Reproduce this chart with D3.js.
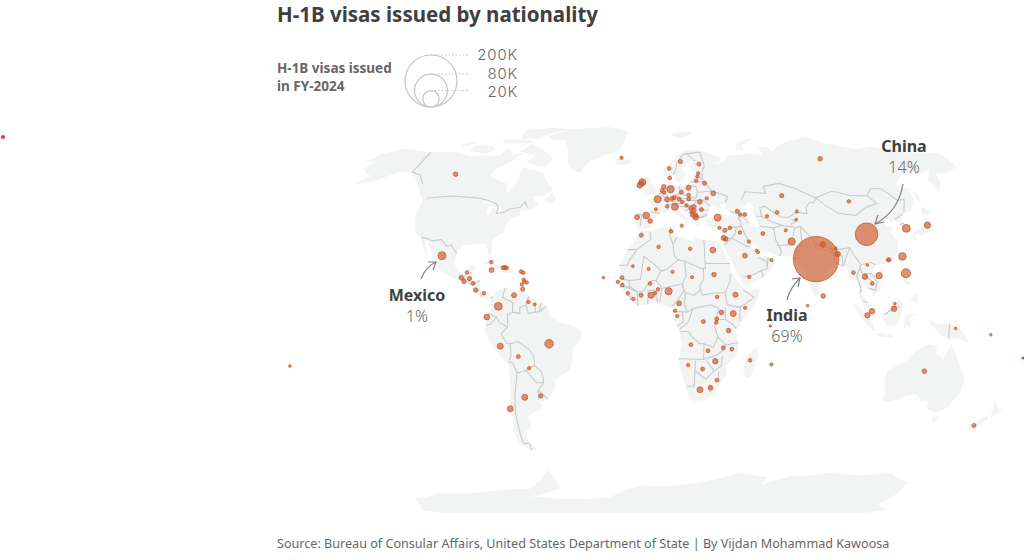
<!DOCTYPE html>
<html>
<head>
<meta charset="utf-8">
<script src="https://d3js.org/d3.v7.min.js"></script>
<style>
  body { margin: 0; background: #fff; }
  svg { display: block; }
  text { font-family: "Noto Sans", sans-serif; }
</style>
</head>
<body>
<svg width="1024" height="560"></svg>
<script>
var americas = [
  ["Canada",-115,59.4,1500],["Mexico",-104.2,25.2,4700],["Bahamas",-79.5,22.6,900],["Cuba",-78.8,19.3,1800],
  ["Haiti",-73.4,20.3,1200],["Dominican Republic",-72.5,20.3,1400],["Jamaica",-71.7,20.2,1100],
  ["Belize",-90.6,18.4,800],["Guatemala",-93,16.2,1500],["El Salvador",-91.5,14.7,1500],["Honduras",-89,15.8,1300],
  ["Nicaragua",-87,13.9,1000],["Costa Rica",-85.5,11.1,1500],["Panama",-81.5,9.8,1000],["Colombia",-74.3,4.4,4500],
  ["Ecuador",-79.7,0,2400],["Venezuela",-67,9,1800],["Guyana",-60,6.2,900],["Suriname",-57,5.2,600],
  ["Antigua",-64.4,18.7,1000],["Barbuda",-63.3,18.2,900],["St Kitts",-62.8,15.4,800],["Dominica",-62.5,14.6,900],
  ["St Lucia",-61.2,14.2,800],["Barbados",-63.6,13.4,800],["Trinidad",-63,11.5,1300],
  ["Peru",-73.8,-12,2600],["Bolivia",-65.5,-16.3,1100],["Paraguay",-60.8,-21,800],["Brazil",-50.3,-11,5500],
  ["Argentina",-65,-33,2600],["Uruguay",-56.8,-32.4,1400],["Chile",-73.6,-37.7,2600]
];
var europe = [
  ["Iceland",-20,67,800],["Ireland",-8,54.5,2200],["UK mid",-7,55.3,1800],["United Kingdom",-6.6,55.8,3700],["Norway",9,62,1000],
  ["Sweden",16,65.2,1300],["Finland",27,64,1100],["Denmark",9,57.7,1000],["Estonia",25.7,59.8,800],
  ["Latvia",25,58.4,800],["Lithuania",23.9,56.5,900],["Belarus",28.5,55.4,1200],["Poland",19.2,53.4,1800],
  ["Ukraine",32.4,51,1700],["Netherlands",5.5,53.8,1500],["Belgium",4.5,52.2,1300],["Luxembourg",5.5,51.4,900],
  ["Germany",9.2,52.8,3800],["France",2,48.5,3800],["Switzerland",7,48.4,1700],["Liechtenstein",9.8,48.8,1300],
  ["San Marino",11,49.2,1300],["Czechia",15,51.5,1200],["Austria",13.6,48.6,1100],["Slovakia",18.9,50.3,900],
  ["Hungary",18.8,48.6,1100],["Romania",24.6,47.4,1700],["Moldova",28.5,48.9,800],["Slovenia",15,47.4,900],
  ["Croatia",17.3,45.9,800],["Bosnia",19.5,44.8,1200],["Serbia",21.2,45.3,1400],["Montenegro",19.7,43.1,1000],
  ["Kosovo",21,43.5,1000],["North Macedonia",21.7,41.7,1200],["Albania",20,42,1400],["Greece",21.7,41,2200],
  ["Bulgaria",25,44.2,1100],["Italy",11.1,45.3,3600],["Monaco",7,45.5,800],["Andorra",1,44.3,700],["Malta",14.2,37.5,800],
  ["Spain",-4.1,41.7,3200],["Portugal",-8.8,41,1800],["Gibraltar",-2,39.4,1500],["Turkey",33,40.8,3600]
];
var africa = [
  ["Tunisia",8.6,35.2,1000],["Morocco",-6.4,33.6,1200],["Algeria",2.3,28.8,900],["Libya",17.9,28,900],["Egypt",29.1,27.5,2400],
  ["Cape Verde",-24.4,16.2,500],["Mauritania",-10.3,20.9,600],["Mali",-2.6,19.8,700],["Niger",9,18.6,800],["Chad",18.4,16.4,700],
  ["Sudan",29,17.5,1500],["Senegal",-15.4,16.2,1000],["Guinea-Bissau",-17.4,14.5,800],["Gambia",-15.2,13.2,1000],
  ["Guinea",-12.5,9.8,800],["Sierra Leone",-9.9,7.4,900],["Burkina Faso",-1.9,13.8,1000],["Ivory Coast",-6.2,9,1300],
  ["Ghana",-1.4,9,2800],["Togo",0.5,9.9,900],["Benin",1.9,11.4,900],["Nigeria",7,10.6,3800],["Cameroon",12,5.6,1700],
  ["Equatorial Guinea",10,2.6,800],["Gabon",11.1,0.4,800],["DR Congo",23.5,-1.9,1200],["South Sudan",30.2,8.3,900],
  ["Ethiopia",39,9.2,1900],["Somalia",43.5,3.8,800],["Kenya",37.8,1.4,2600],["Uganda",32.2,1.9,1500],["Rwanda",29.9,-0.8,1100],
  ["Burundi",29.7,-2.3,900],["Tanzania",35.6,-5.6,1500],["Angola",17.7,-11.4,1100],["Zambia",26,-13.9,1100],["Malawi",33.3,-12.7,1200],
  ["Mozambique",37.4,-13.2,1000],["Zimbabwe",29.7,-18.2,2100],["Namibia",16.6,-19.8,900],["Botswana",23.7,-21.4,1100],
  ["Eswatini",31,-26,1000],["South Africa",22.9,-29.9,2600],["Lesotho",28,-29,1500],["Madagascar",46.5,-17.8,1000],
  ["Mauritius",57,-19.5,800],["Seychelles",55.5,-3.7,500]
];
var asia = [
  ["Cyprus",33.4,36.6,800],["Lebanon",36,35.6,1300],["Syria",38.7,36.6,900],["Israel",35,32.5,1900],["Jordan",36,32,1500],
  ["Iraq",43.5,34.7,900],["Iran",55,34.3,1100],["Kuwait",47.4,31,800],["Bahrain",50.7,27.3,700],["Qatar",51.3,26.6,700],
  ["UAE",57.5,23.4,800],["Saudi Arabia",44.7,25.2,1700],["Yemen",46,16.5,800],["Georgia",43.8,43.5,1200],["Armenia",45,42.1,800],
  ["Azerbaijan",47.4,42.1,1000],["Kazakhstan",69.5,50,1300],["Turkmenistan",58.8,41.4,800],["Uzbekistan",64.5,43,1000],
  ["Kyrgyzstan",75,43.4,700],["Tajikistan",73.5,40,600],["Afghanistan",66.9,35.6,800],["Pakistan",68.8,31,3900],
  ["Russia",102,66.5,1500],["Mongolia",104.6,47.6,900],["India",79.4,23.8,152000],["Nepal",84,29.8,2200],["Bhutan",90,28.2,600],
  ["Bangladesh",90.5,25.9,2000],["China",107.3,34,37800],["South Korea",128.5,36.4,4600],["Japan",140,37.7,2900],
  ["Taiwan",122,24.9,4200],["Hong Kong",115,23.5,1300],["Macau",114.5,23.5,700],["Philippines",122,18,6200],["Vietnam",108.8,17,3000],
  ["Thailand",101.9,16.6,2100],["Laos",104,21.4,500],["Myanmar",96.6,18.3,1000],["Cambodia",105,13.8,1000],["Sri Lanka",81,8.7,1500],
  ["Maldives",73.3,4.7,500],["Malaysia",104,2.4,2200],["Singapore",101.8,0.7,2200],["Indonesia",114.5,3.4,2200],["Brunei",115,5.5,500]
];
var oceania = [
  ["Australia",132,-22.3,1500],["New Zealand",169,-44.6,1200],["Papua New Guinea",144,-4.7,500],["Solomon Islands",161,-7.3,500],["Fiji",-177,-20.2,500]
];

var legendValues = [200000, 80000, 20000];
var legendLabels = ["200K", "80K", "20K"];
var legendLabelY = [56, 74.5, 93];

// land rings, lon/lat
var landRings = [
  [[-176,65.5],[-172,66.5],[-172,68.5],[-160,71.5],[-141,69.7],[-128,70],[-115,68],[-108,68],[-96,68],[-94,72],[-88,68.5],[-82,69.5],[-87,65],[-93,62],[-94.5,58.8],[-88,56.5],[-82,55],[-82,52.5],[-79.5,51.5],[-79,54.5],[-77,56],[-78,58.5],[-78,62.4],[-70,61],[-65,60],[-61,56.5],[-56,52.5],[-60,50],[-66,50],[-65,48.5],[-61,46],[-66,44],[-70,43.5],[-70,41.5],[-74,40.5],[-76,37],[-75.5,35.3],[-81,31.5],[-80,27],[-81,25],[-82.7,28],[-84,30],[-89,30],[-94,29.5],[-97,27.5],[-97.7,22.5],[-95,18.5],[-91,18.7],[-90.5,21],[-87,21.5],[-88,16],[-83.5,15],[-83.5,11],[-81,9],[-77.5,8.7],[-78,7.5],[-80,7.5],[-83,8.2],[-86,10],[-88,13],[-92,14.5],[-96,15.8],[-102,18],[-105.5,20.5],[-109,25.5],[-113,31],[-114.8,31.5],[-112,26],[-109.5,23],[-112,25],[-115,29],[-117,32.5],[-120.5,34.5],[-124,40],[-124.5,48],[-128,51],[-133,55],[-140,60],[-148,60.5],[-152,59],[-158,56.5],[-170,54.5],[-163,58.5],[-168,60],[-172,62],[-168,64.5]],
  [[-77.5,8.7],[-75,11],[-71.5,12.4],[-68,11],[-62,10.7],[-60,8.5],[-55,6],[-51,4.5],[-50,0.5],[-44,-2.5],[-38.5,-3.7],[-35,-5.5],[-35,-9],[-39,-13],[-39.5,-18],[-41,-22],[-45,-23.7],[-48.5,-26],[-49,-29],[-53,-33.5],[-56,-34.8],[-58.3,-34],[-57,-36.5],[-58,-38.3],[-62,-39],[-65,-41],[-65,-45],[-68,-47],[-69,-51],[-65.5,-55],[-69,-55.5],[-74,-52],[-75.5,-47],[-73.5,-42],[-73.5,-37],[-71.5,-30],[-70.5,-20],[-76,-14],[-81,-6],[-80,-2],[-79,1.5],[-77.5,4],[-78,7.5]],
  [[-6,35.8],[-2,35.2],[3,36.8],[10,37.3],[11,33.5],[15,32.3],[20,31],[20,32.8],[25,31.7],[32,31.2],[34,28],[37,22],[37.5,18.5],[40,15],[43.2,12],[44,10.5],[51,11.8],[50,8],[47,4],[42,-1.5],[39,-6],[40.5,-11],[40.5,-15],[35,-20],[35.5,-24],[32.8,-27],[30,-31.5],[26,-34],[20,-34.8],[18,-33],[15,-27],[12,-18],[13.5,-11],[12,-5],[9,-1],[9.7,3.5],[6,4.3],[1,6],[-4,5.2],[-8,4.5],[-13,8.5],[-16.8,12.5],[-17.5,14.7],[-16,19],[-17,21],[-13,27.5],[-9.7,31],[-8,33.5]],
  [[-9,37],[-9.5,38.8],[-8.8,43.3],[-1.5,43.5],[-1,46],[-4.5,48.3],[-1.5,48.7],[1.5,50.8],[4,52],[8,54],[8.5,57],[10.5,57.5],[10,54.5],[14,54],[19,54.5],[21,57],[24,59.3],[30,60],[23,60],[21.5,63],[25,65.5],[22,65.8],[17.5,62],[18.5,60],[16.5,56.5],[13,55.5],[11,59],[8,58],[5,60],[6,62.5],[12,66],[18,70],[25,71],[31,70],[41,67],[40,65],[35,64.5],[38,64],[44,66],[44,68],[54,68.5],[60,69],[68,68.5],[67,72],[73,72.5],[75,70],[80,72.5],[90,75.5],[104,77.5],[113,74],[130,71],[140,72.5],[150,71],[160,69.5],[170,69.5],[180,68.8],[180,65],[180,62.5],[170,60],[163,59.5],[162,56],[156.5,51],[156,57],[163,62],[155,59.5],[143,59],[135,54.5],[141,53],[140,48],[135,43.5],[130,42.5],[127.5,39.8],[129.5,37],[128.5,35],[126.3,34.5],[126.5,37.5],[125,39.5],[121.5,39],[122,40.7],[118,39],[119,37.3],[122.5,37],[119.5,35],[122,31],[121,28],[117,23.5],[113,22],[108,21.5],[106,19],[109,14],[109,11.5],[105,8.8],[105,10.5],[100.5,13.5],[99.5,9.5],[103,5],[104,1.5],[101,3],[98.5,8],[98,15],[94.5,16],[94,19],[91.5,22.5],[89,21.8],[87,21],[82,16.5],[80.2,15],[80,11],[77.5,8],[75,12],[73,19],[72.5,21],[69,22],[67,25],[61,25],[57,26.8],[53,27],[50,30],[48,29.5],[50,26],[51.5,25],[52,24],[55,25.5],[57,24],[59.8,22.5],[55,17.5],[52,16],[45,12.8],[43,13],[39,21],[35,28],[34.5,31.5],[36,36],[32,36],[30,36.5],[27,37],[26.5,39.5],[29,41],[31,41],[36,41.3],[41.5,41.5],[39,44],[37,45],[38.5,47],[35,46],[36,45],[33.5,44.5],[33,46],[30.5,46],[28,43],[28,41.2],[26,40.8],[23,40.3],[24,38],[22.5,36.7],[20,39.7],[19.5,41.8],[14,45],[12.3,45.3],[12.5,44],[16,41.8],[18.5,40],[16,38],[15.7,40],[12,42],[10,44],[6,43.2],[3,43],[0,39.5],[-2,36.8],[-5.5,36]],
  [[-73,78.2],[-60,82],[-32,83.5],[-18,80],[-20,74],[-22,70.5],[-32,68],[-40,65],[-43,60],[-48,61],[-53,66],[-54,70],[-60,76],[-68,76]],
  [[-80,73.7],[-72,71.5],[-62,66.5],[-65,62.5],[-72,64],[-78,65],[-73,68],[-85,70]],
  [[-117,70],[-105,69],[-101,71],[-105,73],[-117,73]],
  [[-90,76.5],[-78,76.5],[-62,82],[-75,83],[-92,81.5]],
  [[-125,72],[-117,74],[-120,75.5],[-125,74]],
  [[-100,74],[-80,74],[-82,76],[-100,76.3]],
  [[-59,47.7],[-53,46.7],[-53,49],[-56,51.5]],
  [[-85,22],[-80,23],[-74.2,20.2],[-77.5,19.9],[-82,22]],
  [[-74.5,18.5],[-72,20],[-68.4,18.6],[-71,17.8]],
  [[-5.5,50],[1.5,51.2],[1.7,52.7],[-0.2,54],[-2,56],[-2,57.7],[-5,58.6],[-6,56],[-3,54],[-4.5,53],[-5,51.7]],
  [[-10,52],[-6,52.2],[-6,54.5],[-8,55.3],[-10,54]],
  [[-24,65.5],[-22,66.4],[-15,66.3],[-13.5,65],[-18.7,63.4],[-22.5,63.9]],
  [[11,79],[20,80.5],[27,80],[20,77],[15,77]],
  [[52,71],[57,70.7],[58,73.5],[68,76.8],[60,76.2],[54,73.5]],
  [[142,54],[143.5,50],[143,46.5],[142,48]],
  [[130.9,34],[135,33.5],[140,35],[141.5,38],[141.5,41.2],[140,41],[139,38],[136.5,36.8],[132.5,35.4]],
  [[140,42],[141.7,45.4],[145.3,43.5],[143,42]],
  [[130,33.5],[131.7,33.5],[131,31],[130,31.5]],
  [[120,23],[121.5,25.2],[121,22]],
  [[108.7,19],[110.5,20],[110,18.3]],
  [[120,16],[120.8,18.5],[122.2,18.4],[122,16],[124,13],[121,13.7]],
  [[122,7],[125.5,9.7],[126.5,7.5],[125.5,5.8],[124,6.5]],
  [[95.2,5.6],[98,4],[104,-2],[106,-5.8],[104.5,-5.8],[100,-2],[97,2]],
  [[105.2,-6.8],[108,-6.5],[114.5,-7.7],[114.3,-8.7],[108,-7.9]],
  [[109,1.5],[111,2],[114,4.5],[117,7],[119,5],[117.7,1],[116,-3.8],[111,-3.4],[109,-1]],
  [[119.5,-5.5],[119,-1],[121,1],[125,1.5],[121,-1],[123,-1],[122,-4.5],[120.5,-3]],
  [[131,-1],[135,-3],[141,-2.7],[147.5,-6],[150.7,-10.5],[146,-9],[142,-9],[138,-8],[133,-4]],
  [[114,-22],[122,-18],[126,-14],[130,-12],[132,-11.3],[136,-12],[135.7,-15],[140,-17.5],[142.5,-11],[145.5,-15],[149,-21],[153,-25.5],[153,-31],[150,-37],[146,-39],[143,-38.7],[140,-38],[138,-34],[135.5,-34.7],[131,-31.5],[126,-32.3],[123,-34],[118,-35],[115,-34.3],[115.7,-31],[113.5,-26]],
  [[144.7,-41],[148,-41],[147.5,-43.5],[146,-43.5]],
  [[172.7,-34.5],[176,-37.5],[178.5,-37.7],[175.5,-41.5],[174,-39.5]],
  [[172.5,-40.5],[174.3,-41.7],[170.5,-46],[167,-46.3],[168,-44]],
  [[49.3,-12],[50.4,-16],[47.5,-24.5],[45,-25.5],[43.5,-22],[44.5,-16.5]],
  [[79.8,9.5],[81.8,7.5],[80.5,6],[79.8,7.5]],
  [[-180,-85.5],[-166,-78.5],[-143.6,-75.5],[-103.6,-74],[-81,-73],[-71,-69],[-64,-64],[-61,-69],[-61.4,-73],[-84,-77],[-44.4,-78.5],[-30,-77.5],[-22.7,-75],[-9,-71.5],[29,-70],[41,-68],[52.4,-65.5],[70,-67.5],[69,-71],[84,-67],[107,-65.5],[144,-65.5],[161,-70],[163,-76],[161,-81],[180,-85.5],[180,-90],[-180,-90]]
];
var lakeRings = [
  [[47,45],[51,47],[53,45],[51,43],[53,41],[54,37],[50,37],[49,40]],
  [[-92,46.8],[-88,48.7],[-84.5,46.8],[-87,46.5]],
  [[-87.8,42],[-88,45.5],[-85,45.8],[-86.3,42]],
  [[-84,46],[-80,45],[-81.7,43.2],[-83.5,43.5]],
  [[-83,41.7],[-79,42.8],[-79,43.7],[-76.5,43.5],[-76.5,44],[-80,44],[-83,42.5]]
];

var borderLines = [
  [[-141,69.7],[-141,60.3],[-135,59],[-130,55]],
  [[-123,49],[-95,49],[-89,48],[-84,46.5],[-82.5,45],[-82.5,42.5],[-79,43],[-76,44.5],[-71,45],[-69,47.3],[-67,45]],
  [[-117,32.5],[-114.7,32.5],[-111,31.3],[-106.5,31.8],[-103,29],[-101,29.7],[-97.2,26]],
  [[-92,14.7],[-91,17.8],[-89,17.9],[-88.3,18.4]],
  [[-88.2,15.7],[-89.3,14.4],[-87.6,13.2]],[[-87.5,13],[-84,15]],[[-85.7,11],[-83.7,11]],[[-83,8.3],[-82.7,9.5]],[[-77.3,8.5],[-77.9,7.2]],
  [[-71.5,12],[-72.5,8],[-67.5,6],[-67.5,2]],[[-67.5,2],[-69.8,1],[-69.8,-4.2]],[[-79,1.5],[-75.2,0],[-74,-2],[-70,-4.2]],
  [[-80.3,-3.4],[-78,-3],[-75.2,0]],[[-60,8.5],[-61,5],[-64,4],[-64,1.5],[-67.5,2]],[[-61,5],[-60,1.5],[-56.5,2],[-57,6]],
  [[-54,5.8],[-54.5,2.3]],[[-51.6,4.2],[-54.5,2.3],[-56.5,2]],[[-70,-4.2],[-73,-7],[-70.5,-11],[-69,-11],[-65,-10],[-60,-13.5],[-58,-16.3],[-58,-20]],
  [[-69,-11],[-69,-16],[-70,-17.7]],[[-70.4,-18.3],[-68.5,-19],[-67,-23],[-70,-33],[-71.5,-40],[-72,-48],[-72,-52],[-68.5,-52.3]],
  [[-68.6,-52.7],[-68.6,-55]],[[-67,-23],[-62.5,-22],[-58,-20]],[[-62.5,-22],[-58,-27],[-54.5,-27],[-54.5,-24],[-55.5,-22],[-58,-20]],
  [[-54.5,-27],[-57.7,-30.2],[-58.3,-34]],[[-57.7,-30.2],[-53.4,-33.7]],
  [[-2,35],[-1.5,32],[-8.7,27.7],[-13,27.7]],[[-8.7,27.3],[-12,23.4],[-13,21.3],[-17,21.3]],[[-5,25],[-6.5,15.5],[-12,15],[-16.5,16]],
  [[8.5,37],[8,33],[9.5,30],[10,25],[12,23.5]],[[-5,25],[1,21],[3.3,19],[4.2,19],[6,19.5],[12,23.5]],[[11.5,33],[10,30.5]],
  [[25,31.7],[25,20],[24,20],[24,15.7]],[[12,23.5],[15,23],[24,19.5]],[[25,22],[37,22]],[[15,23],[15.5,16.8],[13.5,13.7],[3.6,11.7],[3,13],[1,15],[3.3,19]],
  [[-12,15],[-11.5,12.5],[-8,10.3],[-5,10.7],[-3,13.5],[-1,15],[1,15]],[[24,15.7],[22,12.8],[23,9]],[[13.5,13],[15,10],[19,9],[22,11]],
  [[13.5,13.7],[14.5,11],[11,6.5],[8.6,4.7]],[[15,10],[14.5,5],[16,2],[9.8,2.2]],[[3.6,11.7],[2.8,6.4]],[[1.8,6.2],[0,11],[-2.8,11]],[[-2.8,11],[-3,5.2]],
  [[-8,10.3],[-7.7,4.5]],[[-13.7,12.5],[-8,10.3]],[[-13,9],[-11,8.5],[-11.5,7]],[[-16.7,12.4],[-11.5,12.5]],[[16,2],[18.5,3.5],[27,5],[31,3.7]],
  [[23,9],[30,10],[34,10],[35,5]],[[37,17.8],[36.5,14.5],[34,10]],[[35,5],[41,4],[48,8],[43,11]],[[41,4],[41,-1.7]],[[34,4],[34,-1],[37.5,-3],[39.3,-4.7]],[[34,-1],[30.5,-1]],
  [[31,3.7],[29.6,-1.3],[29,-4],[30.5,-8.2]],[[34.5,-11.5],[40.4,-10.5]],[[12.3,-6],[16.5,-6],[18,-8],[22,-11],[24,-11],[28.5,-12.5],[30.5,-8.2],[34.5,-11.5]],
  [[11.8,-17.2],[24,-17.5],[24,-11]],[[12.2,-5],[16.5,-2],[18.5,3.5]],[[9.8,2.2],[13.5,2.2],[14,-2],[11,-3.8]],[[24,-17.5],[30.3,-15.6],[33,-14],[34.5,-11.5]],
  [[20,-17.9],[20,-28.3],[16.5,-28.7]],[[20,-22],[25.5,-25.7],[29.3,-22.2],[25.5,-18]],[[29.3,-22.2],[32.8,-20],[33,-16]],[[31.5,-22.4],[32,-26.8]],
  [[27,-29.5],[29,-28.8],[29.3,-30],[28,-30.6],[27,-29.5]],
  [[11,59],[12.5,61],[14,65],[18,68.5],[20.5,69],[29,69.7]],[[20.5,69],[24,66],[25,65.5]],[[29,69.7],[30,63],[28,60.5]],
  [[28,60],[27.5,57.5],[28.5,56],[31,53],[32,52],[24,51.5],[23.3,54],[19,54.5]],[[21,56.1],[28,56]],[[24.4,58],[27.4,57.6]],
  [[14,54],[14.8,51],[19,49.5],[22.7,49],[24,51.5]],[[7,53.5],[6,51],[8,49],[7.5,47.6],[13,47.7],[13.7,48.7],[12.2,50.3],[14.8,51]],[[19,49.5],[17,48.7],[13.7,48.7]],
  [[32,52],[40,49.7],[38,47]],[[22.7,48],[26.5,48.2],[30,45.5]],[[26.5,48.2],[29,46]],[[17,48],[22.7,48],[21,46],[18.5,45.8],[16,46.7],[17,48]],[[9.6,47],[13,46.7],[16,46.7]],
  [[-1.7,43.3],[3,42.5]],[[7.5,47.6],[7,44]],[[7,46],[10,46.5],[13.7,46]],[[-8.8,42],[-6.5,42],[-7,37.2]],
  [[13.7,45.5],[19,45],[22.5,44.2],[28.5,43.7]],[[22.5,44.2],[22.5,41.3],[26,41.5]],[[19.4,42],[20.7,40.8],[26,41],[27,42.1],[28,42]],[[19,43],[21,42.5]],[[16,43.5],[19,44.5]],
  [[3.4,51.3],[6,51]],[[2.5,51],[6,49.5]],[[36,36],[42,37],[44.7,37.3],[44.5,39.7],[43.5,41.2]],[[39.9,43.4],[47.5,41.5]],[[43.5,41.2],[46.5,41],[48.8,38.5]],
  [[44.7,37.3],[46,33.5],[48,30]],[[42,37],[41,34.3],[39,32.3],[37,32.5],[35.8,32.7]],[[39,32.3],[42,31],[46,29],[48,29]],[[43,16.7],[47,17],[52,19],[55,20],[56,24.5]],
  [[52,16.5],[53,16.7],[52,19]],[[51.5,24.5],[55,22.7],[55,20]],[[34.9,29.5],[37,31],[39,32.3]],
  [[54,37.3],[61,36.6],[61,31.5],[63,27],[61.7,25]],[[61,29.5],[66,29.5],[70,33],[71.5,36.5],[74.8,37.3]],[[61,36.6],[65,37.5],[71.5,37]],
  [[53,41.5],[56,41.3],[56,45],[59,45.5],[61,44],[66,41],[70,41],[74.5,43],[80,42.5],[80.5,45],[83,47],[85.5,47],[87.5,49]],
  [[47,48],[50,51.7],[61,51],[61,54],[70,55.3],[77,53.5],[83,51],[87.5,49]],[[56,41.3],[61,39],[66,37.5]],[[71,40],[73.5,39.5],[70,38]],
  [[87.5,49],[98,52],[107,50],[116,50],[120,53],[126,53],[131,48],[135,48.5],[131,43]],[[87.7,49],[91,46],[96,42.7],[105,41.7],[112,45],[119,46.7],[116,50]],
  [[74.8,37.3],[79,32.5],[81,30],[88,28],[92,27.8],[97,28.5],[98.5,25],[101,21.5],[106,22.5],[108,21.5]],[[81,30],[80,28.7],[88,26.5],[88,28]],
  [[74.8,37.3],[74,33],[74,30],[70,28],[71,24.5],[68.2,23.7]],[[88,26.5],[89,22],[92,21],[92.5,25],[88,26.5]],[[97,28.5],[94,24],[92.5,21]],
  [[100,21],[101,17.7],[105,18],[107.5,14.7],[106,11],[102.7,12]],[[101,17.7],[105.5,14.3]],[[101,21.5],[98,17],[99.5,11],[98.5,10]],
  [[124.5,40],[130,42.5]],[[126,38],[128.5,38.5]],[[100,6.5],[102,6]],[[110,1],[115,4],[117.5,4.2]],[[141,-2.7],[141,-9]]
];

var visaRows = [].concat(americas, europe, africa, asia, oceania);

var svg = d3.select("svg");

var projection = d3.geoNaturalEarth1()
  .scale(138)
  .translate([654, 317]);
var path = d3.geoPath(projection);

var radius = d3.scaleSqrt().domain([0, 200000]).range([0, 26]);

function ringFeature(ring) {
  var closed = ring.concat([ring[0]]);
  var poly = { type: "Polygon", coordinates: [closed] };
  // d3 wants clockwise rings, anything bigger than half the globe is inside out
  if (d3.geoArea(poly) > 2 * Math.PI) poly.coordinates = [closed.slice().reverse()];
  return poly;
}

svg.append("g").selectAll("path")
  .data(landRings.map(ringFeature))
  .enter().append("path")
    .attr("d", path)
    .attr("fill", "#f2f3f3");

svg.append("g").selectAll("path")
  .data(lakeRings.map(ringFeature))
  .enter().append("path")
    .attr("d", path)
    .attr("fill", "#fff");

svg.append("path")
  .datum({ type: "MultiLineString", coordinates: borderLines })
  .attr("d", path)
  .attr("fill", "none")
  .attr("stroke", "#c8caca")
  .attr("stroke-width", 1.1);

// big ones first so the small dots stay on top
var dots = visaRows.slice().sort(function(a, b) { return b[3] - a[3]; });

svg.append("g").selectAll("circle")
  .data(dots)
  .enter().append("circle")
    .attr("cx", function(d) { return projection([d[1], d[2]])[0]; })
    .attr("cy", function(d) { return projection([d[1], d[2]])[1]; })
    .attr("r", function(d) { return radius(d[3]); })
    .attr("fill", "#cf5f30")
    .attr("fill-opacity", 0.68)
    .attr("stroke", "#c85a2c")
    .attr("stroke-opacity", 0.8)
    .attr("stroke-width", 1);

svg.append("text")
  .attr("x", 277).attr("y", 22)
  .attr("font-size", 20.5).attr("font-weight", 700)
  .attr("fill", "#404040")
  .text("H-1B visas issued by nationality");

var legendTitle = svg.append("g")
  .attr("font-size", 13.5).attr("font-weight", 700)
  .attr("fill", "#666");
legendTitle.append("text").attr("x", 277).attr("y", 73).text("H-1B visas issued");
legendTitle.append("text").attr("x", 277).attr("y", 91).text("in FY-2024");

var legendBottom = 107, legendX = 431;
var legend = svg.append("g");
legendValues.forEach(function(v, i) {
  var r = radius(v);
  legend.append("circle")
    .attr("cx", legendX).attr("cy", legendBottom - r).attr("r", r)
    .attr("fill", "none").attr("stroke", "#c4c4c4").attr("stroke-width", 1.2);
  legend.append("line")
    .attr("x1", legendX).attr("x2", 468)
    .attr("y1", legendBottom - 2 * r).attr("y2", legendBottom - 2 * r)
    .attr("stroke", "#c4c4c4").attr("stroke-dasharray", "1.5,2");
  legend.append("text")
    .attr("x", 518).attr("y", legendLabelY[i])
    .attr("text-anchor", "end").attr("dominant-baseline", "middle")
    .style("font-family", "Inter")
    .style("letter-spacing", "0.8px")
    .attr("font-size", 15).attr("font-weight", 300).attr("fill", "#666")
    .text(legendLabels[i]);
});

// callouts
var callouts = [
  { name: "China", pct: "14%", x: 904, y: 152, arrow: "M903,184 C900,202 890,216 875,224", head: [875, 224, 884, 222, 878, 215] },
  { name: "Mexico", pct: "1%", x: 417, y: 301, arrow: "M421,279 C424,271 429,265 436,262", head: [436, 262, 428, 262, 433, 270] },
  { name: "India", pct: "69%", x: 787, y: 321, arrow: "M787,300 C789,291 794,284 800,278", head: [800, 278, 792, 279, 798, 287] }
];
callouts.forEach(function(c) {
  svg.append("text").attr("x", c.x).attr("y", c.y)
    .attr("text-anchor", "middle").attr("font-size", 16).attr("font-weight", 700)
    .attr("fill", "#404040").text(c.name);
  svg.append("text").attr("x", c.x).attr("y", c.y + 21)
    .attr("text-anchor", "middle").attr("font-size", 16).attr("font-weight", 300)
    .attr("fill", "#666").text(c.pct);
  svg.append("path").attr("d", c.arrow)
    .attr("fill", "none").attr("stroke", "#808080").attr("stroke-width", 1.2);
  svg.append("path")
    .attr("d", "M" + c.head[2] + "," + c.head[3] + " L" + c.head[0] + "," + c.head[1] + " L" + c.head[4] + "," + c.head[5])
    .attr("fill", "none").attr("stroke", "#808080").attr("stroke-width", 1.2);
});

svg.append("text")
  .attr("x", 277).attr("y", 548)
  .attr("font-size", 12.6).attr("fill", "#666")
  .text("Source: Bureau of Consular Affairs, United States Department of State | By Vijdan Mohammad Kawoosa");

// two specks that sit outside the map in the source image
svg.append("circle").attr("cx", 3).attr("cy", 137).attr("r", 2).attr("fill", "#e8303a");
svg.append("circle").attr("cx", 1023).attr("cy", 358).attr("r", 1.5).attr("fill", "#c4532a");
</script>
</body>
</html>
